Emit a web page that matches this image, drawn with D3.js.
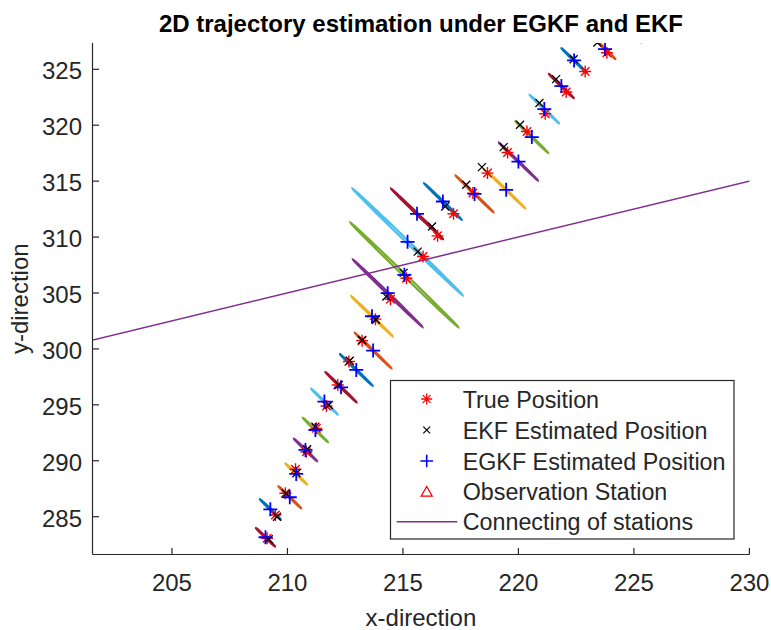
<!DOCTYPE html>
<html>
<head>
<meta charset="utf-8">
<script src="https://cdn.jsdelivr.net/npm/d3@7"></script>
<style>
  body { margin: 0; background: #fff; }
  text { font-family: "Liberation Sans", Arial, Helvetica, sans-serif; }
</style>
</head>
<body>
<svg width="771" height="630"></svg>
<script>
// values
const trueX = [209.05, 209.12, 209.48, 209.91, 210.35, 210.82, 211.25, 211.69, 212.18, 212.66, 213.23, 213.81, 214.46,
  215.15, 215.87, 216.5, 217.19, 218.03, 218.66, 219.53, 220.37, 221.16, 222.07, 222.89, 223.83, 224.8];
const trueY = [280.6, 283.07, 285.15, 287.09, 289.24, 290.81, 292.9, 294.9, 296.78, 298.87, 300.74, 302.66, 304.45,
  306.32, 308.26, 310.11, 312.08, 313.93, 315.72, 317.56, 319.44, 321.02, 322.97, 324.8, 326.48, 328.1];
const ekfX = [209.0, 209.19, 209.55, 209.95, 210.39, 210.85, 211.21, 211.79, 212.22, 212.7, 213.23, 213.83, 214.28,
  215.03, 215.64, 216.26, 216.83, 217.74, 218.42, 219.36, 220.07, 220.91, 221.63, 222.39, 223.42, 224.5];
const ekfY = [280.8, 282.98, 285.0, 287.05, 288.88, 291.03, 293.05, 294.99, 296.78, 298.95, 300.8, 302.6, 304.68,
  306.8, 308.7, 310.94, 312.73, 314.67, 316.25, 318.04, 320.04, 321.98, 324.12, 325.9, 327.4, 329.0];
const egkfX = [208.95, 209.05, 209.26, 210.1, 210.38, 210.78, 211.21, 211.6, 212.32, 212.98, 213.71, 213.66, 214.34,
  215.06, 215.2, 215.61, 216.73, 218.1, 219.47, 220.0, 220.58, 221.12, 221.86, 222.41, 223.75, 224.85];
const egkfY = [280.75, 283.16, 285.66, 286.74, 288.82, 290.97, 292.75, 295.29, 296.57, 298.12, 299.85, 302.92, 304.98,
  306.62, 309.57, 312.08, 313.18, 313.86, 314.22, 316.75, 318.94, 321.44, 323.5, 325.79, 326.81, 328.29];
// error ellipse semi-axes (data units), centred on the EGKF estimate
const covMajor = [0.92, 0.92, 1.0, 1.1, 1.05, 1.12, 1.21, 1.28, 1.5, 1.57, 1.76, 2.0, 3.34,
  5.2, 5.31, 2.5, 1.8, 1.82, 1.83, 1.87, 1.58, 1.41, 1.2, 1.22, 1.0, 1.0];
const covMinor = [0.035, 0.035, 0.035, 0.035, 0.035, 0.035, 0.035, 0.035, 0.035, 0.035, 0.035, 0.035, 0.05,
  0.07, 0.07, 0.045, 0.035, 0.035, 0.035, 0.035, 0.035, 0.035, 0.035, 0.035, 0.035, 0.035];
const stationX = [150, 250];
const stationY = [275, 325];

const xTicks = [205, 210, 215, 220, 225, 230];
const yTicks = [285, 290, 295, 300, 305, 310, 315, 320, 325];
const legendLabels = ['True Position', 'EKF Estimated Position', 'EGKF Estimated Position',
  'Observation Station', 'Connecting of stations'];

const matlabColors = ['#0072BD', '#D95319', '#EDB120', '#7E2F8E', '#77AC30', '#4DBEEE', '#A2142F'];
const axisColor = '#262626';

const plot = { left: 92.5, right: 749.4, top: 43, bottom: 554.5 };

const x = d3.scaleLinear().domain([201.56, 230]).range([plot.left, plot.right]);
const y = d3.scaleLinear().domain([281.62, 327.35]).range([plot.bottom, plot.top]);

const svg = d3.select('svg');

svg.append('defs').append('clipPath').attr('id', 'clip')
  .append('rect')
  .attr('x', plot.left).attr('y', plot.top)
  .attr('width', plot.right - plot.left).attr('height', plot.bottom - plot.top);

const g = svg.append('g').attr('clip-path', 'url(#clip)');

// major axis is perpendicular to the baseline between stations
const bx = stationX[1] - stationX[0], by = stationY[1] - stationY[0];
const bl = Math.hypot(bx, by);
const u = [by / bl, -bx / bl];   // major direction
const v = [bx / bl, by / bl];    // minor direction

const line = d3.line().x(d => x(d[0])).y(d => y(d[1]));

const ellipses = egkfX.map((cx, i) => {
  const cy = egkfY[i], a = covMajor[i], b = covMinor[i];
  const pts = d3.range(0, 73).map(k => {
    const t = k / 72 * 2 * Math.PI;
    return [cx + a * Math.cos(t) * u[0] + b * Math.sin(t) * v[0],
            cy + a * Math.cos(t) * u[1] + b * Math.sin(t) * v[1]];
  });
  return { pts, color: matlabColors[(i + 5) % 7] };
});

g.selectAll('path.ell')
  .data(ellipses)
  .enter()
  .append('path')
  .attr('class', 'ell')
  .attr('d', d => line(d.pts) + 'Z')
  .attr('fill', 'none')
  .attr('stroke', d => d.color)
  .attr('stroke-width', 2.2);

// connecting line of stations
g.append('path')
  .attr('d', line(stationX.map((sx, i) => [sx, stationY[i]])))
  .attr('fill', 'none')
  .attr('stroke', '#7E2F8E')
  .attr('stroke-width', 1.5);

const plus = r => `M${-r},0H${r}M0,${-r}V${r}`;
const cross = r => `M${-r},${-r}L${r},${r}M${-r},${r}L${r},${-r}`;
const star = r => plus(r) + cross(r * 0.7071);
const tri = r => `M${-r},${r * 0.8}L${r},${r * 0.8}L0,${-r * 0.95}Z`;

function markers(xs, ys, shape, color, width) {
  g.append('g').selectAll('path')
    .data(xs.map((d, i) => [d, ys[i]]))
    .enter()
    .append('path')
    .attr('transform', d => `translate(${x(d[0])},${y(d[1])})`)
    .attr('d', shape)
    .attr('fill', 'none')
    .attr('stroke', color)
    .attr('stroke-width', width);
}

markers(stationX, stationY, tri(5.5), '#FF0000', 1.2);
markers(trueX, trueY, star(6), '#FF0000', 1.4);
markers(ekfX, ekfY, cross(4), '#000000', 1.3);
markers(egkfX, egkfY, plus(7), '#0000FF', 1.8);

// axes (box off)
const axes = svg.append('g');
axes.append('line')
  .attr('x1', plot.left).attr('x2', plot.right)
  .attr('y1', plot.bottom).attr('y2', plot.bottom)
  .attr('stroke', axisColor).attr('stroke-width', 1.2);
axes.append('line')
  .attr('x1', plot.left).attr('x2', plot.left)
  .attr('y1', plot.top).attr('y2', plot.bottom)
  .attr('stroke', axisColor).attr('stroke-width', 1.2);

axes.selectAll('line.xt')
  .data(xTicks).enter().append('line')
  .attr('x1', d => x(d)).attr('x2', d => x(d))
  .attr('y1', plot.bottom).attr('y2', plot.bottom - 6.5)
  .attr('stroke', axisColor).attr('stroke-width', 1.2);
axes.selectAll('text.xt')
  .data(xTicks).enter().append('text')
  .attr('x', d => x(d)).attr('y', 591)
  .attr('text-anchor', 'middle')
  .attr('font-size', 24).attr('fill', axisColor)
  .text(d => d);

axes.selectAll('line.yt')
  .data(yTicks).enter().append('line')
  .attr('x1', plot.left).attr('x2', plot.left + 6.5)
  .attr('y1', d => y(d)).attr('y2', d => y(d))
  .attr('stroke', axisColor).attr('stroke-width', 1.2);
axes.selectAll('text.yt')
  .data(yTicks).enter().append('text')
  .attr('x', 82).attr('y', d => y(d))
  .attr('dy', '0.42em')
  .attr('text-anchor', 'end')
  .attr('font-size', 24).attr('fill', axisColor)
  .text(d => d);

svg.append('text')
  .attr('x', (plot.left + plot.right) / 2).attr('y', 626)
  .attr('text-anchor', 'middle')
  .attr('font-size', 24).attr('fill', axisColor)
  .text('x-direction');

svg.append('text')
  .attr('transform', `translate(28,${(plot.top + plot.bottom) / 2}) rotate(-90)`)
  .attr('text-anchor', 'middle')
  .attr('font-size', 24).attr('fill', axisColor)
  .text('y-direction');

svg.append('text')
  .attr('x', (plot.left + plot.right) / 2).attr('y', 31.5)
  .attr('text-anchor', 'middle')
  .attr('font-size', 24).attr('font-weight', 'bold').attr('fill', '#000')
  .text('2D trajectory estimation under EGKF and EKF');

// legend
const leg = svg.append('g');
leg.append('rect')
  .attr('x', 390.5).attr('y', 380.5).attr('width', 343.5).attr('height', 158.5)
  .attr('fill', '#fff').attr('stroke', axisColor).attr('stroke-width', 1.2);

const rowY = [399, 430, 461, 491.7, 521.7];
const legShapes = [
  { d: star(5.5), c: '#FF0000', w: 1.3 },
  { d: cross(3.4), c: '#000000', w: 1.2 },
  { d: plus(6.3), c: '#0000FF', w: 1.6 },
  { d: tri(5.5), c: '#FF0000', w: 1.3 }
];
legShapes.forEach((s, i) => {
  leg.append('path')
    .attr('transform', `translate(426.7,${rowY[i]})`)
    .attr('d', s.d).attr('fill', 'none')
    .attr('stroke', s.c).attr('stroke-width', s.w);
});
leg.append('line')
  .attr('x1', 396.7).attr('x2', 457.3)
  .attr('y1', rowY[4]).attr('y2', rowY[4])
  .attr('stroke', '#7E2F8E').attr('stroke-width', 1.5);
leg.selectAll('text')
  .data(legendLabels).enter().append('text')
  .attr('x', 462.7).attr('y', (d, i) => rowY[i] + 8.5)
  .attr('font-size', 23.3).attr('fill', axisColor)
  .text(d => d);
</script>
</body>
</html>
